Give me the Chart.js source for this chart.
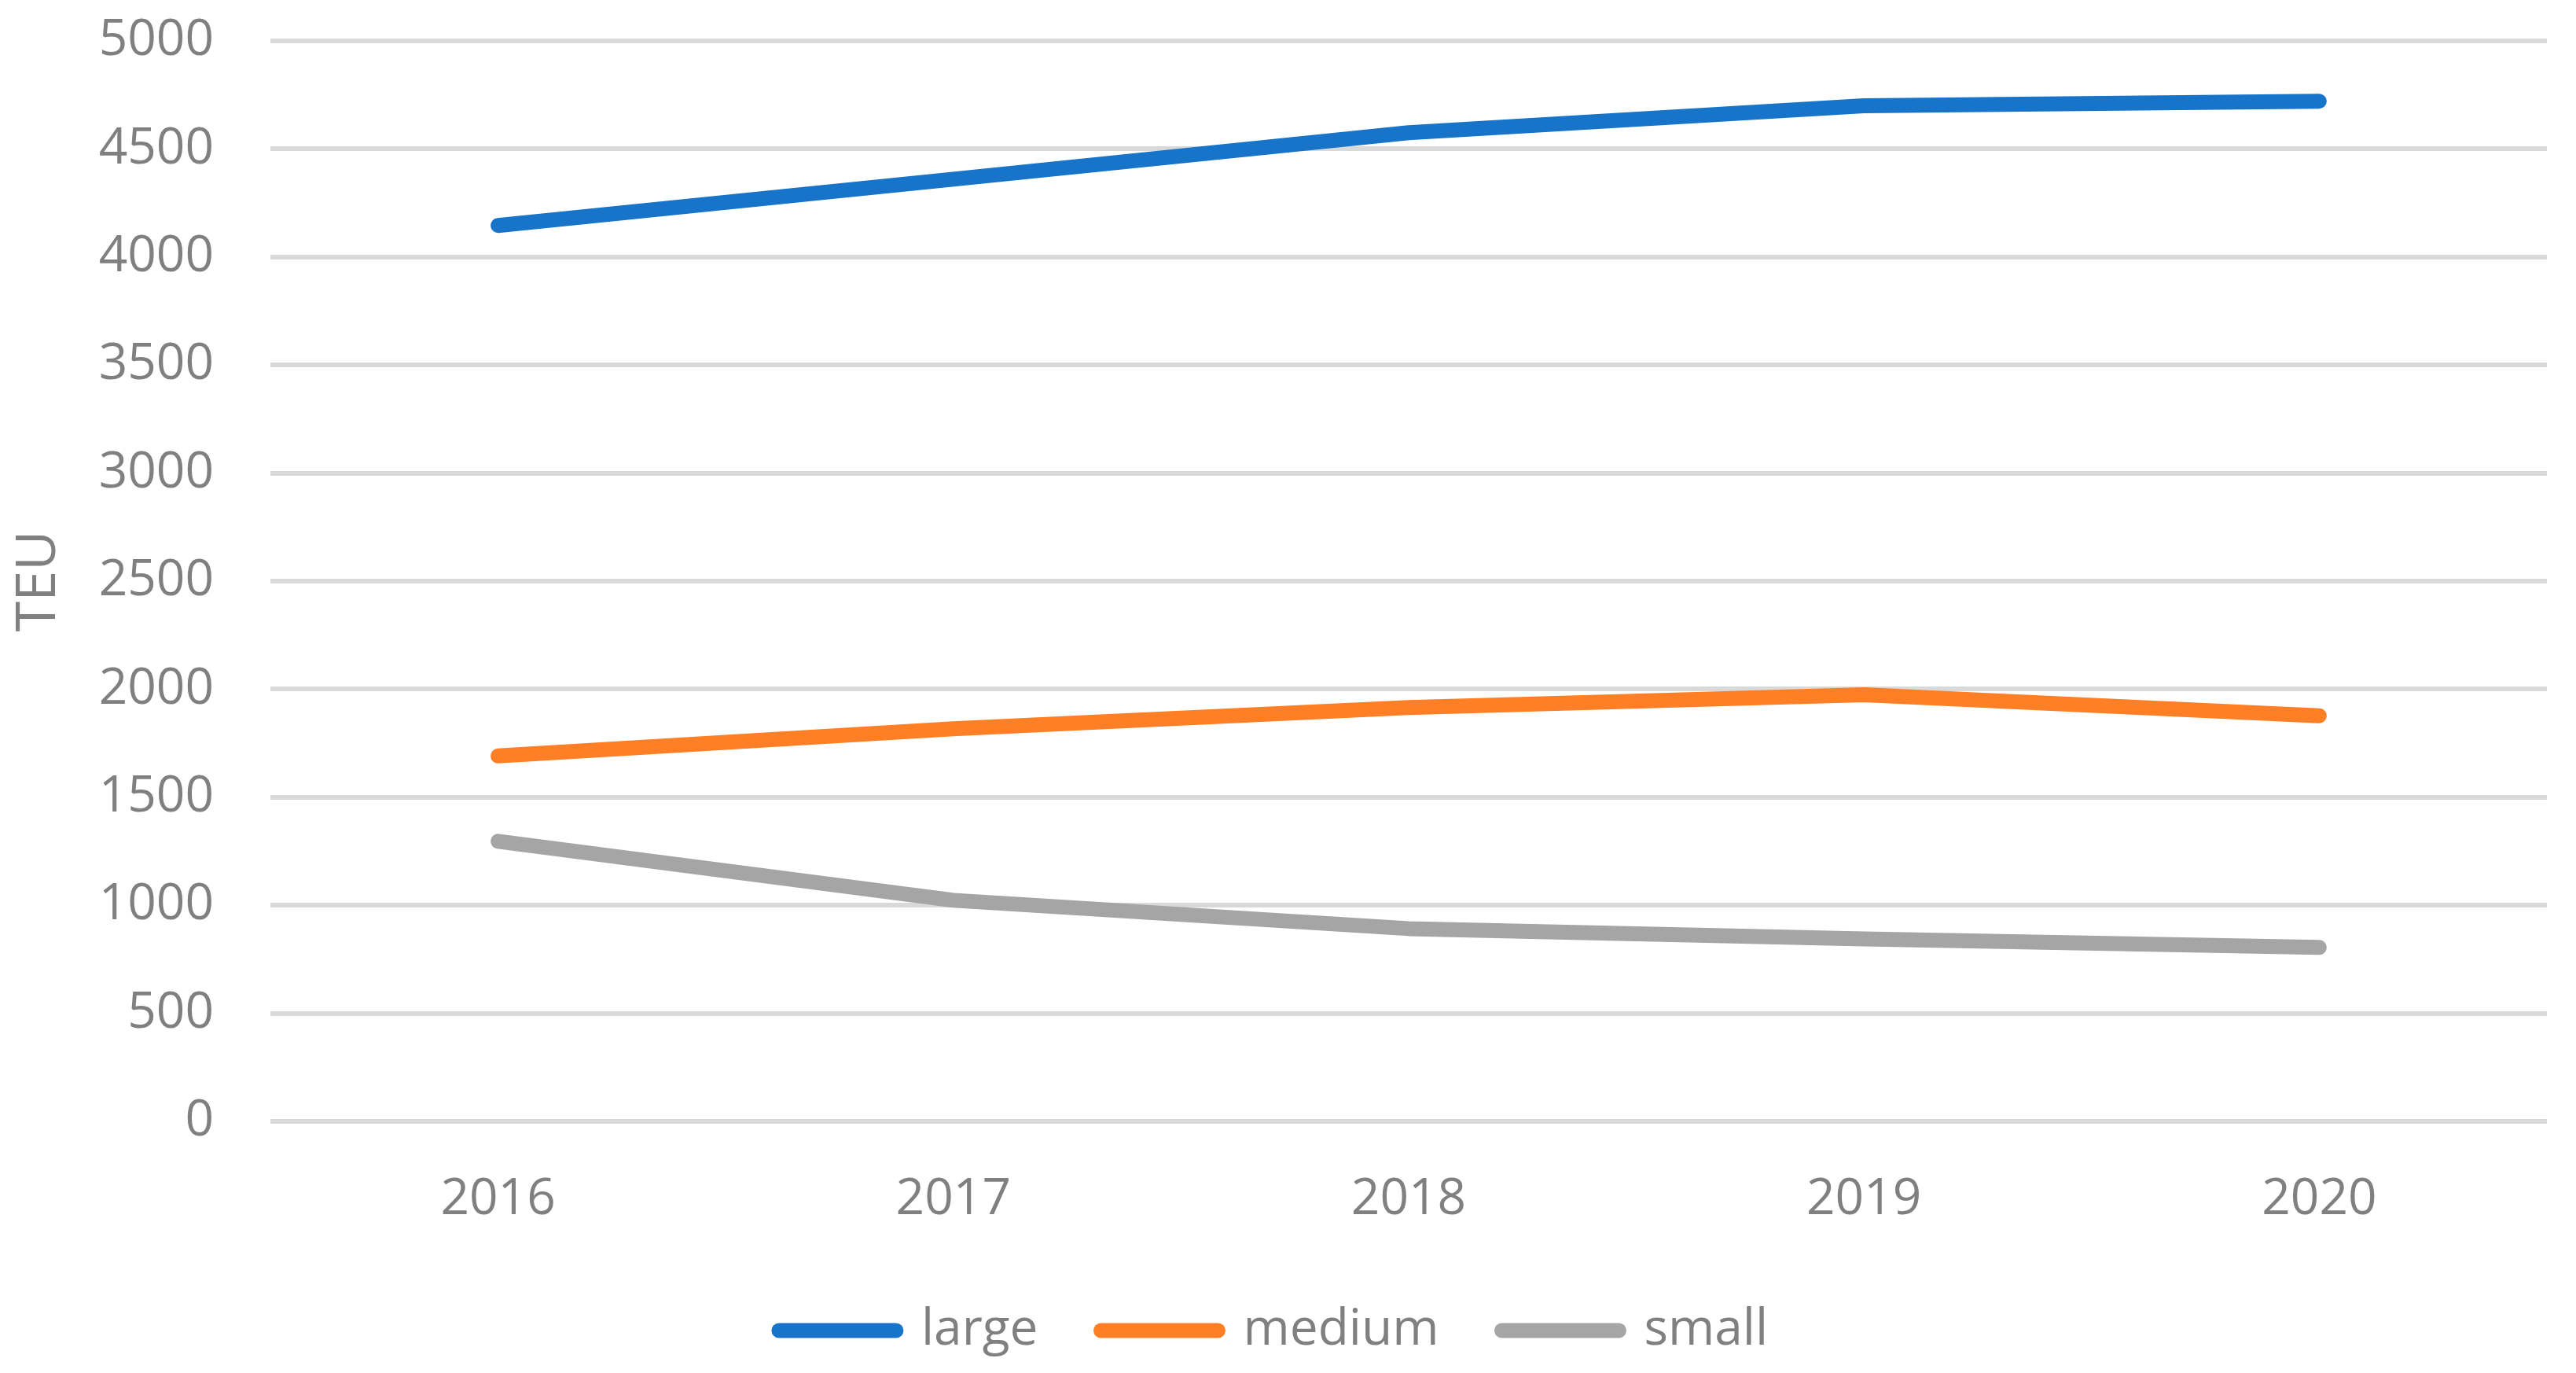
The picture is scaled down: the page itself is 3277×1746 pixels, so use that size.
<!DOCTYPE html>
<html>
<head>
<meta charset="utf-8">
<title>TEU by vessel size</title>
<script src="https://cdn.jsdelivr.net/npm/chart.js@4.4.1/dist/chart.umd.min.js"></script>
<style>
  html, body { margin: 0; padding: 0; background: #ffffff; }
  #chart { display: block; }
</style>
</head>
<body>
<canvas id="chart" width="3277" height="1746"></canvas>
<script>
// values
const years = ['2016', '2017', '2018', '2019', '2020'];
const large = [4146, 4360, 4575, 4700, 4721];
const medium = [1691, 1817, 1915, 1974, 1877];
const small = [1296, 1023, 892, 844, 805];
const yTicks = [0, 500, 1000, 1500, 2000, 2500, 3000, 3500, 4000, 4500, 5000];

const textGray = '#808080';
const fontFamily = '"Open Sans", "Liberation Sans", sans-serif';

const lineDataset = (label, data, color) => ({
  label: label,
  data: data,
  borderColor: color,
  backgroundColor: color,
  borderWidth: 19,
  borderCapStyle: 'round',
  borderJoinStyle: 'round',
  pointRadius: 0,
  pointHoverRadius: 0,
  fill: false,
  tension: 0
});

const ctx = document.getElementById('chart');
const chart = new Chart(ctx, {
  type: 'line',
  data: {
    labels: years,
    datasets: [
      lineDataset('large', large, '#1874C8'),
      lineDataset('medium', medium, '#FF7F27'),
      lineDataset('small', small, '#A5A5A5')
    ]
  },
  options: {
    responsive: false,
    devicePixelRatio: 1,
    animation: false,
    layout: {
      padding: { left: 0, top: 52, right: 37, bottom: 12 }
    },
    plugins: {
      tooltip: { enabled: false },
      legend: {
        position: 'bottom',
        labels: {
          usePointStyle: true,
          pointStyle: 'line',
          pointStyleWidth: 149,
          boxHeight: 20,
          padding: 80,
          color: textGray,
          font: { family: fontFamily, size: 64 },
          // round ends on the legend lines, like the series
          generateLabels: (c) => Chart.defaults.plugins.legend.labels.generateLabels(c).map(item => {
            item.lineCap = 'round';
            item.lineWidth = 19;
            return item;
          })
        }
      }
    },
    scales: {
      x: {
        offset: true,
        grid: { display: false, drawTicks: false },
        border: { display: false },
        ticks: {
          color: textGray,
          padding: 61,
          font: { family: fontFamily, size: 64 }
        },
        afterFit: (scale) => { scale.height = 154; }
      },
      y: {
        min: 0,
        max: 5000,
        afterBuildTicks: (scale) => { scale.ticks = yTicks.map(v => ({ value: v })); },
        // invisible tick marks push the labels left without adding vertical padding
        grid: { color: '#D9D9D9', lineWidth: 6, drawTicks: true, tickLength: 62, tickColor: 'rgba(0,0,0,0)' },
        border: { display: false },
        ticks: {
          color: textGray,
          padding: 10,
          font: { family: fontFamily, size: 64 },
          callback: (v) => String(v)
        },
        title: {
          display: true,
          text: 'TEU',
          color: textGray,
          padding: { top: 8, bottom: 0 },
          font: { family: fontFamily, size: 70, lineHeight: 1.2 }
        },
        afterFit: (scale) => { scale.width = 344; }
      }
    }
  }
});
</script>
</body>
</html>
